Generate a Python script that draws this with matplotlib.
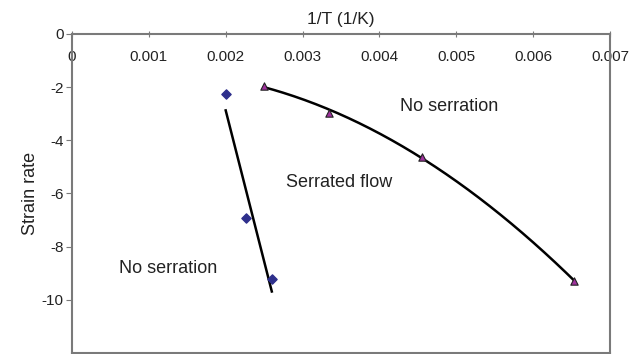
import matplotlib.pyplot as plt
import numpy as np

plt.rcParams["font.family"] = ["Liberation Sans", "DejaVu Sans"]
plt.rcParams["axes.unicode_minus"] = False

# diamonds: left boundary
inv_t_low = [0.0020, 0.00226, 0.0026]
rate_low = [-2.25, -6.93, -9.21]

# triangles: right boundary
inv_t_high = [0.0025, 0.00335, 0.00456, 0.00653]
rate_high = [-1.95, -2.96, -4.61, -9.28]

x_ticks = [0, 0.001, 0.002, 0.003, 0.004, 0.005, 0.006, 0.007]
x_tick_labels = ["0", "0.001", "0.002", "0.003", "0.004", "0.005", "0.006", "0.007"]
y_ticks = [0, -2, -4, -6, -8, -10]

TXT = "#222222"
SPINE = "#7a7a7a"

fig = plt.figure(figsize=(6.41, 3.54), dpi=100)
ax = fig.add_axes([0.1123, 0.003, 0.8393, 0.901])

# linear trendline through the diamonds
p1 = np.polyfit(inv_t_low, rate_low, 1)
xl = np.linspace(min(inv_t_low), max(inv_t_low), 50)
ax.plot(xl, np.polyval(p1, xl), color="black", lw=1.8, zorder=2)

# quadratic trendline through the triangles
p2 = np.polyfit(inv_t_high, rate_high, 2)
xh = np.linspace(min(inv_t_high), max(inv_t_high), 200)
ax.plot(xh, np.polyval(p2, xh), color="black", lw=1.8, zorder=2)

ax.scatter(inv_t_low, rate_low, marker="D", s=22, color="#2e2f8c", zorder=3)
ax.scatter(inv_t_high, rate_high, marker="^", s=28, color="#a0329e",
           edgecolor="#222222", linewidth=0.8, zorder=3)

ax.text(0.00491, -2.73, "No serration", fontsize=13, color=TXT, ha="center", va="center")
ax.text(0.00348, -5.58, "Serrated flow", fontsize=13, color=TXT, ha="center", va="center")
ax.text(0.00125, -8.84, "No serration", fontsize=13, color=TXT, ha="center", va="center")

ax.set_xlim(0, 0.007)
ax.set_ylim(-12, 0)
ax.set_xticks(x_ticks)
ax.set_xticklabels(x_tick_labels)
ax.set_yticks(y_ticks)

ax.xaxis.tick_top()
ax.xaxis.set_label_position("top")
ax.tick_params(axis="x", direction="inout", length=5, pad=-24, labelsize=11,
               colors=TXT, color=SPINE)
ax.tick_params(axis="y", direction="out", length=4, pad=2, labelsize=11,
               colors=TXT, color=SPINE)

ax.set_xlabel("1/T (1/K)", fontsize=12.5, color=TXT, labelpad=5)
ax.set_ylabel("Strain rate", fontsize=13, color=TXT, labelpad=2)

for s in ax.spines.values():
    s.set_color(SPINE)
    s.set_linewidth(1.5)

fig.savefig("out.png", dpi=100)
